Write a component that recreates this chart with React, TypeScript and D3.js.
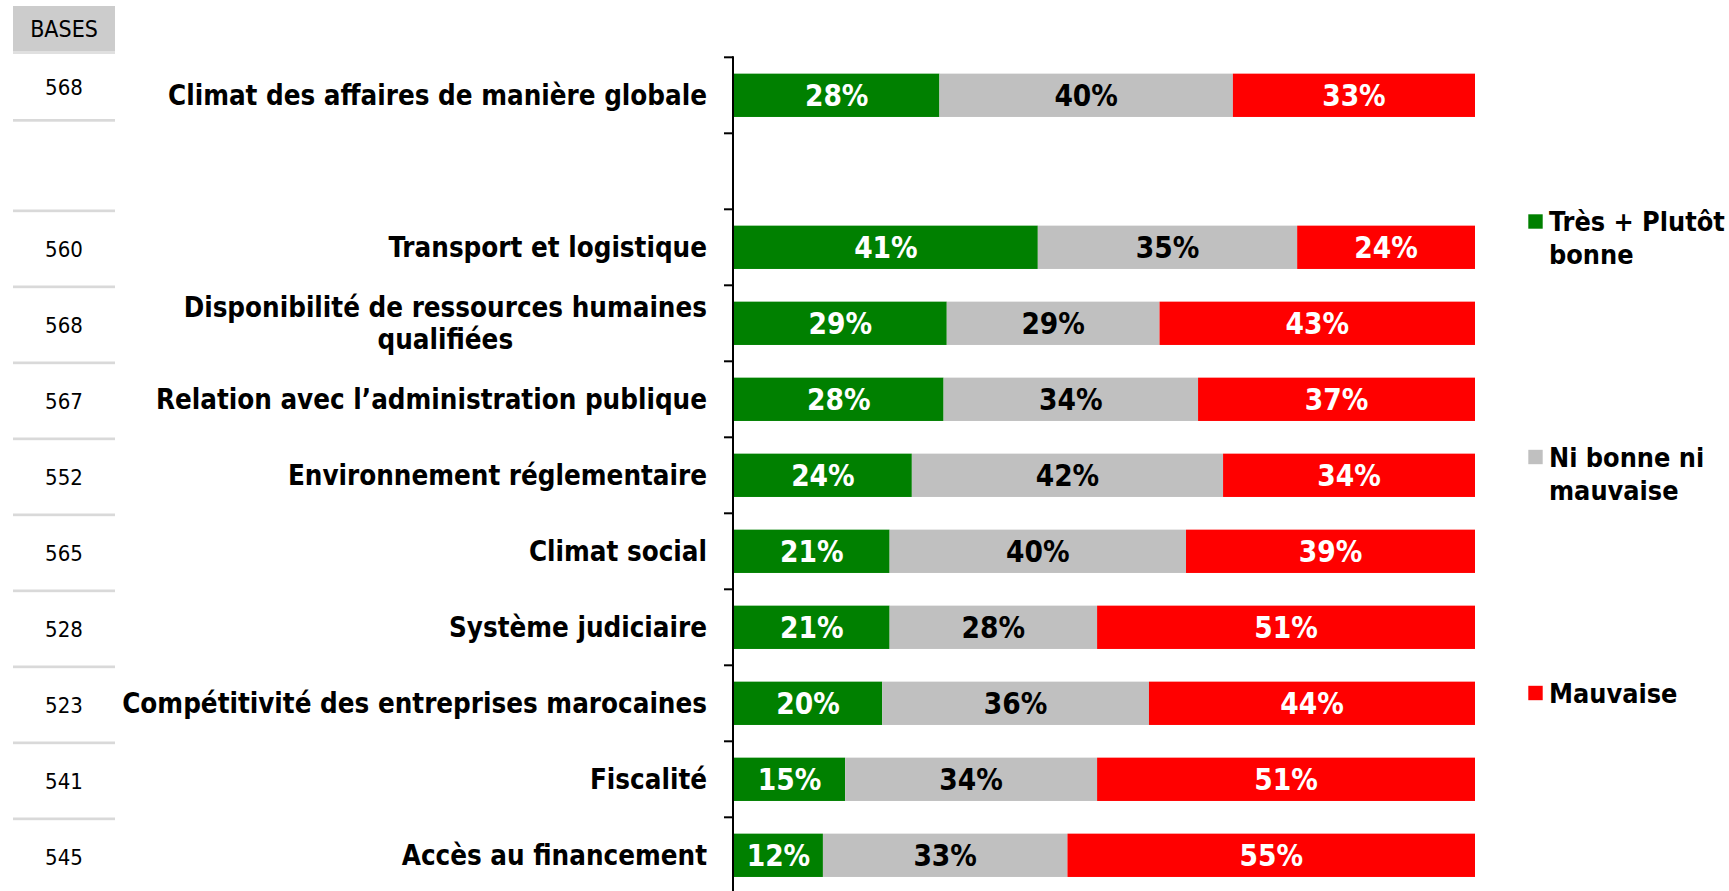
import React, { useEffect, useRef } from 'react';
import * as d3 from 'd3';

// rows, top to bottom; the empty one is the gap under the first bar
const categories = [
  'Climat des affaires de manière globale',
  '',
  'Transport et logistique',
  'Disponibilité de ressources humaines\nqualifiées',
  'Relation avec l’administration publique',
  'Environnement réglementaire',
  'Climat social',
  'Système judiciaire',
  'Compétitivité des entreprises marocaines',
  'Fiscalité',
  'Accès au financement',
];
const bases = [568, null, 560, 568, 567, 552, 565, 528, 523, 541, 545];
const bonne = [28, null, 41, 29, 28, 24, 21, 21, 20, 15, 12];
const neutre = [40, null, 35, 29, 34, 42, 40, 28, 36, 34, 33];
const mauvaise = [33, null, 24, 43, 37, 34, 39, 51, 44, 51, 55];

const seriesKeys = ['bonne', 'neutre', 'mauvaise'];
const seriesLabels = [['Très + Plutôt', 'bonne'], ['Ni bonne ni', 'mauvaise'], ['Mauvaise']];
const seriesColors = ['#008000', '#c0c0c0', '#ff0000'];
const seriesTextColors = ['#ffffff', '#000000', '#ffffff'];

const FONT = "'DejaVu Sans Condensed', 'DejaVu Sans', sans-serif";

export default function App() {
  const ref = useRef(null);

  useEffect(() => {
    const height = 891;
    const svg = d3.select(ref.current);
    svg.selectAll('*').remove();

    const rows = categories.map((c, i) => ({
      key: String(i),
      label: c,
      base: bases[i],
      bonne: bonne[i] ?? 0,
      neutre: neutre[i] ?? 0,
      mauvaise: mauvaise[i] ?? 0,
      empty: bonne[i] == null,
    }));

    const y = d3
      .scaleBand()
      .domain(rows.map((r) => r.key))
      .range([57.3, 893.3])
      .paddingInner(0.43)
      .paddingOuter(0.215);

    const x = d3.scaleLinear().domain([0, 1]).range([734, 1475]);

    const stacked = d3
      .stack()
      .keys(seriesKeys)
      .offset(d3.stackOffsetExpand)(rows.filter((r) => !r.empty));

    // left "BASES" column
    const left = svg.append('g');
    left.append('rect').attr('x', 13).attr('y', 6).attr('width', 102).attr('height', 45).attr('fill', '#cccccc');
    left.append('rect').attr('x', 13).attr('y', 51).attr('width', 102).attr('height', 3).attr('fill', '#e0e0e0');
    left
      .append('text')
      .attr('x', 64)
      .attr('y', 29)
      .attr('dy', '0.36em')
      .attr('text-anchor', 'middle')
      .style('font-family', FONT)
      .style('font-size', '23px')
      .text('BASES');

    const step = y.step();
    rows.forEach((r, i) => {
      if (r.empty) return;
      const slotTop = y(r.key) - step * 0.215;
      let top;
      let bottom;
      if (i === 0) {
        top = 54;
        bottom = 120;
        left.append('rect').attr('x', 13).attr('y', 119).attr('width', 102).attr('height', 2.7).attr('fill', '#d9d9d9');
      } else {
        top = slotTop + 1.5;
        bottom = top + step;
        left.append('rect').attr('x', 13).attr('y', top - 1.3).attr('width', 102).attr('height', 2.7).attr('fill', '#d9d9d9');
      }
      left
        .append('text')
        .attr('x', 64)
        .attr('y', (top + bottom) / 2)
        .attr('dy', '0.36em')
        .attr('text-anchor', 'middle')
        .style('font-family', FONT)
        .style('font-size', '22px')
        .text(r.base);
    });

    // bars
    stacked.forEach((layer, si) => {
      const g = svg.append('g');
      g.selectAll('rect')
        .data(layer)
        .enter()
        .append('rect')
        .attr('x', (d) => x(d[0]))
        .attr('y', (d) => y(d.data.key))
        .attr('width', (d) => x(d[1]) - x(d[0]))
        .attr('height', y.bandwidth())
        .attr('fill', seriesColors[si]);
      g.selectAll('text')
        .data(layer)
        .enter()
        .append('text')
        .attr('x', (d) => (x(d[0]) + x(d[1])) / 2)
        .attr('y', (d) => y(d.data.key) + y.bandwidth() / 2)
        .attr('dy', '0.36em')
        .attr('text-anchor', 'middle')
        .attr('fill', seriesTextColors[si])
        .style('font-family', FONT)
        .style('font-weight', 'bold')
        .style('font-size', '29.5px')
        .text((d) => `${d.data[layer.key]}%`);
    });

    // axis line and ticks at slot boundaries
    const axis = svg.append('g');
    axis
      .append('line')
      .attr('x1', 733)
      .attr('x2', 733)
      .attr('y1', y.range()[0] - 1)
      .attr('y2', height)
      .attr('stroke', '#000')
      .attr('stroke-width', 2);
    axis
      .selectAll('.tick')
      .data(rows)
      .enter()
      .append('line')
      .attr('x1', 724)
      .attr('x2', 733)
      .attr('y1', (d) => y(d.key) - step * 0.215)
      .attr('y2', (d) => y(d.key) - step * 0.215)
      .attr('stroke', '#000')
      .attr('stroke-width', 2);

    // category labels
    const labelX = 707;
    rows.forEach((r) => {
      if (!r.label) return;
      const lines = r.label.split('\n');
      const cy = y(r.key) + y.bandwidth() / 2;
      const lh = 32;
      const t = svg
        .append('text')
        .attr('text-anchor', 'end')
        .style('font-family', FONT)
        .style('font-weight', 'bold')
        .style('font-size', '27.5px');
      const spans = lines.map((line, li) =>
        t
          .append('tspan')
          .attr('x', labelX)
          .attr('y', cy + (li - (lines.length - 1) / 2) * lh)
          .attr('dy', '0.36em')
          .text(line)
      );
      if (lines.length > 1) {
        const w = spans[0].node().getComputedTextLength();
        t.attr('text-anchor', 'middle');
        spans.forEach((s) => s.attr('x', labelX - w / 2));
      }
    });

    // legend
    const legendY = [221.5, 457, 693];
    seriesLabels.forEach((lines, i) => {
      const g = svg.append('g');
      g.append('rect')
        .attr('x', 1528.3)
        .attr('y', legendY[i] - 7.2)
        .attr('width', 14.4)
        .attr('height', 14.4)
        .attr('fill', seriesColors[i]);
      const t = g
        .append('text')
        .style('font-family', FONT)
        .style('font-weight', 'bold')
        .style('font-size', '26.8px');
      lines.forEach((line, li) => {
        t.append('tspan')
          .attr('x', 1549)
          .attr('y', legendY[i] + li * 33)
          .attr('dy', '0.36em')
          .text(line);
      });
    });
  }, []);

  return (
    <svg
      ref={ref}
      width={1729}
      height={891}
      style={{ position: 'absolute', left: 0, top: 0, background: '#fff' }}
    ></svg>
  );
}
